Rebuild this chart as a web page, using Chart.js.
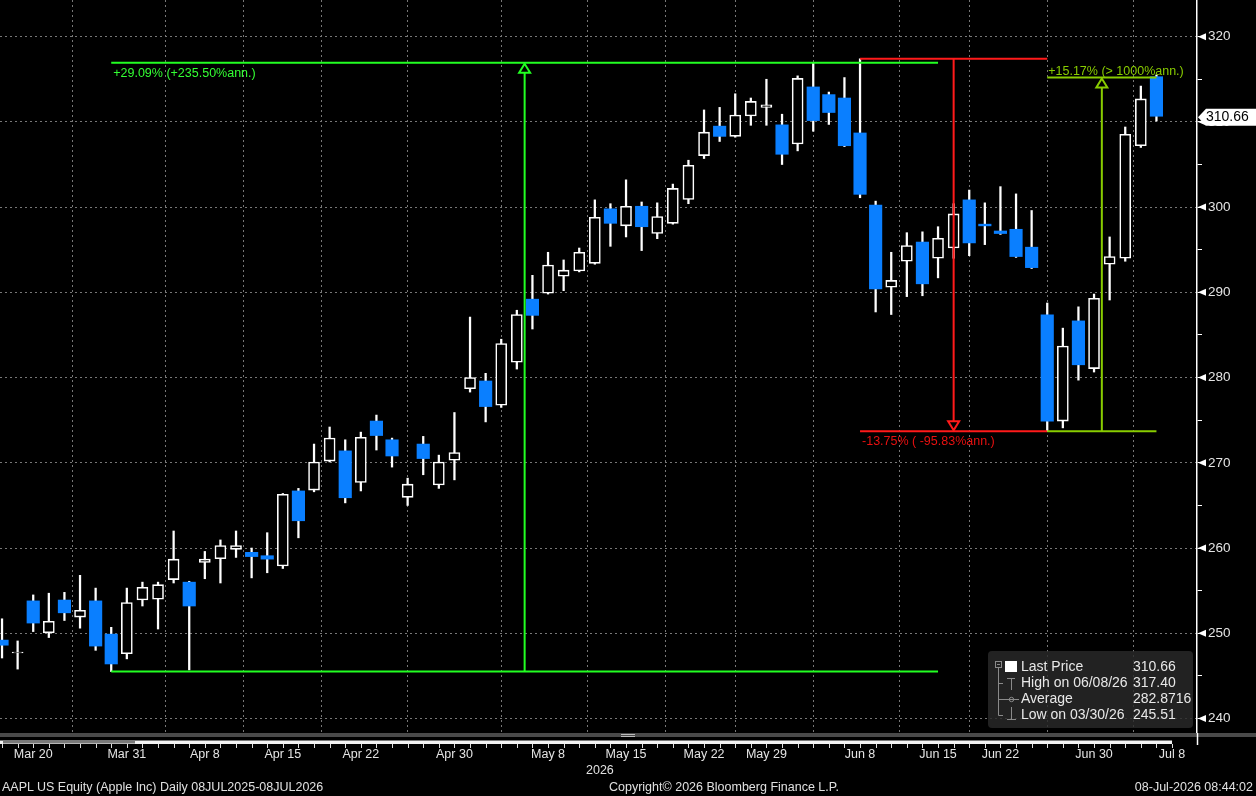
<!DOCTYPE html>
<html>
<head>
<meta charset="utf-8">
<title>AAPL US Equity</title>
<script src="https://cdn.jsdelivr.net/npm/chart.js@4.4.1/dist/chart.umd.min.js"></script>
<style>
  html, body { margin: 0; padding: 0; background: #000; }
  #wrap { position: relative; width: 1256px; height: 796px; overflow: hidden; }
  #chart { position: absolute; left: 0; top: 0; }
  .txt { position: absolute; color: #e0e0e0; font: 12.5px "Liberation Sans", Arial, sans-serif; white-space: nowrap; }
</style>
</head>
<body>
<div id="wrap">
  <canvas id="chart" width="1256" height="796"></canvas>
  <div class="txt" style="left:586px; top:763px;">2026</div>
  <div class="txt" style="left:2px; top:780px;">AAPL US Equity (Apple Inc) Daily 08JUL2025-08JUL2026</div>
  <div class="txt" style="left:609px; top:780px;">Copyright© 2026 Bloomberg Finance L.P.</div>
  <div class="txt" style="right:3px; top:780px;">08-Jul-2026 08:44:02</div>
</div>
<script>
// trading days shown (last one has no bar yet)
const dates = ['Mar 19', 'Mar 20', 'Mar 23', 'Mar 24', 'Mar 25', 'Mar 26', 'Mar 27', 'Mar 30', 'Mar 31',
  'Apr 1', 'Apr 2', 'Apr 6', 'Apr 7', 'Apr 8', 'Apr 9', 'Apr 10', 'Apr 13', 'Apr 14', 'Apr 15', 'Apr 16',
  'Apr 17', 'Apr 20', 'Apr 21', 'Apr 22', 'Apr 23', 'Apr 24', 'Apr 27', 'Apr 28', 'Apr 29', 'Apr 30',
  'May 1', 'May 4', 'May 5', 'May 6', 'May 7', 'May 8', 'May 11', 'May 12', 'May 13', 'May 14', 'May 15',
  'May 18', 'May 19', 'May 20', 'May 21', 'May 22', 'May 26', 'May 27', 'May 28', 'May 29',
  'Jun 1', 'Jun 2', 'Jun 3', 'Jun 4', 'Jun 5', 'Jun 8', 'Jun 9', 'Jun 10', 'Jun 11', 'Jun 12', 'Jun 15',
  'Jun 16', 'Jun 17', 'Jun 18', 'Jun 22', 'Jun 23', 'Jun 24', 'Jun 25', 'Jun 26', 'Jun 29', 'Jun 30',
  'Jul 1', 'Jul 2', 'Jul 6', 'Jul 7', 'Jul 8'];

const opens = [249.2, 247.7, 253.8, 250.05, 253.9, 251.9, 253.8, 249.9, 247.6, 253.9,
  254.0, 256.3, 256.0, 258.3, 258.75, 259.85, 259.5, 259.1, 257.9, 266.7,
  266.8, 270.2, 271.4, 267.7, 274.9, 272.7, 265.95, 272.2, 267.4, 270.3,
  278.7, 279.6, 276.75, 281.8, 289.2, 289.9, 291.9, 292.5, 293.4, 299.8,
  297.8, 300.1, 296.9, 298.1, 300.9, 306.05, 309.5, 308.3, 310.7, 311.7,
  309.65, 307.4, 314.1, 313.2, 312.8, 308.7, 300.25, 290.6, 293.65, 295.9,
  294.0, 295.2, 300.85, 298.0, 297.2, 297.4, 295.3, 287.35, 274.9, 286.65,
  281.05, 293.3, 294.0, 307.2, 315.3];
const highs = [251.7, 249.1, 254.5, 254.7, 254.8, 256.8, 255.3, 250.7, 255.3, 256.0,
  256.0, 262.0, 256.1, 259.6, 260.95, 262.0, 260.0, 261.8, 266.4, 267.0,
  272.2, 274.2, 272.7, 273.6, 275.6, 272.9, 268.2, 273.1, 270.9, 275.9,
  287.1, 280.5, 284.5, 287.9, 292.0, 294.7, 293.8, 295.2, 300.85, 300.4,
  303.2, 300.6, 300.5, 302.7, 305.5, 311.4, 311.7, 313.3, 312.8, 315.0,
  310.9, 315.4, 316.9, 313.5, 315.2, 317.4, 300.7, 294.7, 297.0, 297.1,
  297.7, 300.4, 302.0, 300.5, 302.4, 301.55, 299.6, 288.75, 285.8, 288.3,
  289.8, 296.5, 309.4, 314.2, 315.5];
const lows = [247.1, 245.8, 250.2, 249.5, 251.5, 250.6, 248.0, 245.51, 247.0, 253.2,
  250.5, 255.9, 245.7, 256.4, 255.9, 258.9, 256.5, 257.1, 257.6, 261.2,
  266.6, 270.1, 265.3, 266.7, 271.5, 269.5, 265.0, 268.6, 267.0, 268.0,
  278.3, 274.8, 276.5, 281.0, 285.7, 289.8, 290.2, 292.4, 293.3, 295.4,
  296.5, 294.9, 296.3, 298.0, 300.4, 305.7, 307.7, 308.2, 309.6, 309.6,
  305.0, 306.6, 308.9, 309.7, 307.1, 301.1, 287.7, 287.4, 289.5, 289.6,
  291.7, 294.0, 294.3, 295.6, 296.8, 294.1, 292.8, 273.7, 274.1, 279.7,
  280.65, 289.1, 293.65, 307.0, 310.1];
const closes = [248.6, 247.8, 251.2, 251.4, 252.4, 252.7, 248.5, 246.4, 253.6, 255.4,
  255.7, 258.7, 253.2, 258.7, 260.3, 260.3, 259.0, 258.7, 266.3, 263.2,
  270.1, 272.9, 265.9, 273.0, 273.2, 270.8, 267.5, 270.5, 270.1, 271.2,
  280.0, 276.6, 284.0, 287.4, 287.3, 293.2, 292.6, 294.7, 298.8, 298.1,
  300.1, 297.7, 298.9, 302.2, 304.9, 308.8, 308.3, 310.8, 312.4, 312.0,
  306.2, 315.1, 310.15, 311.1, 307.2, 301.5, 290.4, 291.4, 295.5, 291.0,
  296.35, 299.2, 295.8, 297.8, 296.9, 294.2, 292.9, 274.9, 283.7, 281.5,
  289.3, 294.2, 308.55, 312.7, 310.66];

const tickDates = ['Mar 20', 'Mar 31', 'Apr 8', 'Apr 15', 'Apr 22', 'Apr 30', 'May 8', 'May 15',
  'May 22', 'May 29', 'Jun 8', 'Jun 15', 'Jun 22', 'Jun 30', 'Jul 8'];

// measured moves drawn on the chart
const moveFrom = ['Mar 30', 'Jun 8', 'Jun 25'];
const moveTo = ['Jun 15', 'Jun 25', 'Jul 7'];
const moveLow = [245.51, 273.7, 273.7];
const moveHigh = [316.93, 317.40, 315.2];
const moveText = ['+29.09% (+235.50%ann.)', '-13.75% ( -95.83%ann.)', '+15.17% (> 1000%ann.)'];

const legendNames = ['Last Price', 'High on 06/08/26', 'Average', 'Low on 03/30/26'];
const legendValues = ['310.66', '317.40', '282.8716', '245.51'];
const lastPrice = 310.66;

const FONT = '"Liberation Sans", Arial, sans-serif';
const idx = opens.map((_, i) => i);
const upData = idx.filter(i => closes[i] >= opens[i]).map(i => ({ x: i, y: [opens[i], closes[i]] }));
const downData = idx.filter(i => closes[i] < opens[i]).map(i => ({ x: i, y: [opens[i], closes[i]] }));
const wickData = idx.map(i => ({ x: i, y: [lows[i], highs[i]] }));

const overlay = {
    id: 'overlay',
    afterDraw(chart) {
        const { ctx, chartArea: a, scales: { x, y } } = chart;
        ctx.save();

        // scroll bar strip under the plot
        ctx.fillStyle = '#4a4a4a';
        ctx.fillRect(0, a.bottom, 1256, 4);
        ctx.fillStyle = '#f2f2f2';
        ctx.fillRect(0, a.bottom + 7.5, x.getPixelForValue(75), 3.5);
        ctx.fillStyle = '#7a7a7a';
        ctx.fillRect(3, a.bottom + 7.5, 132, 3);
        ctx.fillStyle = '#bbb';
        ctx.fillRect(621, a.bottom + 1, 14, 1);
        ctx.fillRect(621, a.bottom + 3, 14, 1);

        // one small tick per trading day
        ctx.strokeStyle = '#ddd';
        ctx.lineWidth = 1;
        ctx.beginPath();
        dates.forEach((d, i) => {
            const px = Math.round(x.getPixelForValue(i)) + 0.5;
            ctx.moveTo(px, a.bottom + 11);
            ctx.lineTo(px, a.bottom + 15);
        });
        ctx.stroke();

        // axis line carried down through the strip
        ctx.strokeStyle = '#fff';
        ctx.lineWidth = 1.5;
        ctx.beginPath();
        ctx.moveTo(a.right + 0.5, a.bottom);
        ctx.lineTo(a.right + 0.5, a.bottom + 12);
        ctx.stroke();

        // markers on major price ticks
        ctx.fillStyle = '#fff';
        for (let v = 240; v <= 320; v += 10) {
            const py = y.getPixelForValue(v);
            ctx.beginPath();
            ctx.moveTo(a.right + 1, py);
            ctx.lineTo(a.right + 9, py - 3.5);
            ctx.lineTo(a.right + 9, py + 3.5);
            ctx.closePath();
            ctx.fill();
        }

        // measured moves
        const colors = ['#22ff22', '#ff1a1a', '#88cc00'];
        const textColors = ['#33ff33', '#e81010', '#88cc00'];
        moveFrom.forEach((d, k) => {
            const x0 = x.getPixelForValue(dates.indexOf(moveFrom[k]));
            const x1 = x.getPixelForValue(dates.indexOf(moveTo[k]));
            const yl = y.getPixelForValue(moveLow[k]);
            const yh = y.getPixelForValue(moveHigh[k]);
            const xm = (x0 + x1) / 2;
            const up = k !== 1;
            ctx.strokeStyle = colors[k];
            ctx.lineWidth = 2;
            ctx.beginPath();
            ctx.moveTo(x0, yl); ctx.lineTo(x1, yl);
            ctx.moveTo(x0, yh); ctx.lineTo(x1, yh);
            if (up) {
                ctx.moveTo(xm, yl); ctx.lineTo(xm, yh + 10);
            } else {
                ctx.moveTo(xm, yh); ctx.lineTo(xm, yl - 10);
            }
            ctx.stroke();
            // hollow arrow head
            const tip = up ? yh + 1 : yl - 1;
            const base = up ? yh + 10 : yl - 10;
            ctx.beginPath();
            ctx.moveTo(xm, tip);
            ctx.lineTo(xm - 5.5, base);
            ctx.lineTo(xm + 5.5, base);
            ctx.closePath();
            ctx.stroke();

            ctx.fillStyle = textColors[k];
            ctx.font = '12.5px ' + FONT;
            ctx.textAlign = 'left';
            ctx.textBaseline = 'alphabetic';
            if (k === 0) ctx.fillText(moveText[k], x0 + 2, yh + 14);
            else if (k === 1) ctx.fillText(moveText[k], x0 + 2, yl + 13.5);
            else ctx.fillText(moveText[k], x0 + 1, yh - 2.5);
        });

        // legend box
        ctx.fillStyle = 'rgba(42,42,42,0.82)';
        ctx.beginPath();
        ctx.roundRect(988, 651, 205, 77, 4);
        ctx.fill();
        ctx.strokeStyle = '#8a8a8a';
        ctx.lineWidth = 1;
        ctx.strokeRect(995.5, 661.5, 6, 6);
        ctx.beginPath();
        ctx.moveTo(997, 664.5); ctx.lineTo(1000, 664.5);
        ctx.moveTo(998.5, 668); ctx.lineTo(998.5, 715.5);
        ctx.moveTo(998.5, 683.5); ctx.lineTo(1003, 683.5);
        ctx.moveTo(998.5, 699.5); ctx.lineTo(1019, 699.5);
        ctx.moveTo(998.5, 715.5); ctx.lineTo(1003, 715.5);
        // high and low glyphs
        ctx.moveTo(1007, 678.5); ctx.lineTo(1015, 678.5);
        ctx.moveTo(1011.5, 678.5); ctx.lineTo(1011.5, 690);
        ctx.moveTo(1011.5, 707); ctx.lineTo(1011.5, 719);
        ctx.moveTo(1007, 719.5); ctx.lineTo(1016, 719.5);
        ctx.stroke();
        ctx.beginPath();
        ctx.arc(1011.5, 699.5, 2.2, 0, Math.PI * 2);
        ctx.stroke();
        ctx.fillStyle = '#fff';
        ctx.fillRect(1005, 661, 12, 11);
        ctx.fillStyle = '#e8e8e8';
        ctx.font = '14px ' + FONT;
        ctx.textBaseline = 'middle';
        legendNames.forEach((n, i) => {
            const ly = 667 + i * 16.2;
            ctx.fillText(n, 1021, ly);
            ctx.fillText(legendValues[i], 1133, ly);
        });

        // last price tag
        const ty = y.getPixelForValue(lastPrice) + 1;
        ctx.fillStyle = '#fff';
        ctx.beginPath();
        ctx.moveTo(a.right + 1, ty);
        ctx.lineTo(a.right + 9, ty - 8.5);
        ctx.lineTo(1256, ty - 8.5);
        ctx.lineTo(1256, ty + 8.5);
        ctx.lineTo(a.right + 9, ty + 8.5);
        ctx.closePath();
        ctx.fill();
        ctx.fillStyle = '#000';
        ctx.font = '14px ' + FONT;
        ctx.fillText(lastPrice.toFixed(2), a.right + 9, ty);

        ctx.restore();
    }
};

new Chart(document.getElementById('chart').getContext('2d'), {
    type: 'bar',
    data: {
        datasets: [
            {
                label: 'Wicks',
                data: wickData,
                backgroundColor: '#ffffff',
                barThickness: 1.6,
                grouped: false,
                order: 3
            },
            {
                label: 'Up',
                data: upData,
                backgroundColor: '#000000',
                borderColor: '#ffffff',
                borderWidth: 1.6,
                borderSkipped: false,
                barThickness: 11,
                grouped: false,
                order: 1
            },
            {
                label: 'Down',
                data: downData,
                backgroundColor: '#0a7fff',
                borderWidth: 0,
                barThickness: 12.5,
                grouped: false,
                order: 2
            }
        ]
    },
    options: {
        responsive: false,
        animation: false,
        layout: { padding: { bottom: 33 } },
        plugins: {
            legend: { display: false },
            tooltip: { enabled: false }
        },
        scales: {
            x: {
                type: 'linear',
                bounds: 'data',
                offset: false,
                min: -0.13,
                max: 76.6,
                afterBuildTicks: s => { s.ticks = tickDates.map(d => ({ value: dates.indexOf(d) })); },
                afterFit: s => {
                    s.height = 30;
                    s.paddingLeft = 0;
                    s.paddingRight = 0;
                },
                ticks: {
                    autoSkip: false,
                    maxRotation: 0,
                    padding: 14,
                    color: '#e4e4e4',
                    font: { family: FONT, size: 12.5 },
                    callback: (v, i) => (i === 0 ? '         ' : '') + dates[v]
                },
                grid: { color: '#777', lineWidth: 1, drawTicks: false },
                border: { display: false, dash: [2, 3] }
            },
            y: {
                position: 'right',
                bounds: 'data',
                min: 238.3,
                max: 324.3,
                afterBuildTicks: s => {
                    const t = [];
                    for (let v = 240; v <= 320; v += 5) t.push({ value: v });
                    s.ticks = t;
                },
                afterFit: s => {
                    s.width = 59;
                    s.paddingTop = 0;
                    s.paddingBottom = 0;
                },
                ticks: {
                    padding: 6,
                    color: '#e4e4e4',
                    font: { family: FONT, size: 13.5 },
                    callback: v => (v % 10 === 0 ? String(v) : '')
                },
                grid: {
                    color: c => (c.tick && c.tick.value % 10 === 0 ? '#777' : 'transparent'),
                    lineWidth: 1,
                    drawTicks: true,
                    tickLength: 5,
                    tickColor: '#ffffff'
                },
                border: { display: true, color: '#ffffff', width: 1.5, dash: [2, 3] }
            }
        }
    },
    plugins: [overlay]
});
</script>
</body>
</html>
